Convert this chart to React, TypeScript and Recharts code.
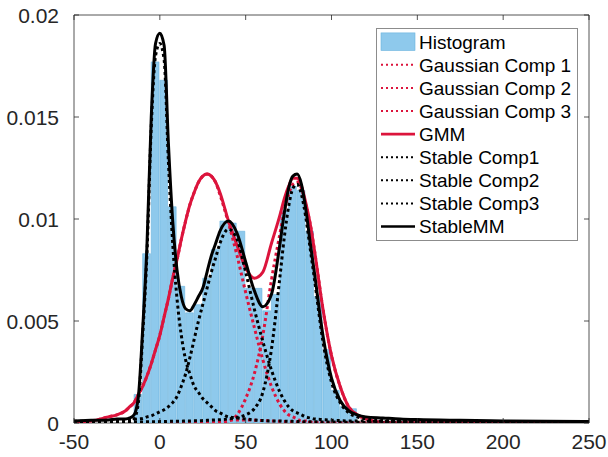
import { ComposedChart, Bar, Line, XAxis, YAxis, ReferenceArea, Legend } from "recharts";

// histogram: 5-unit bins, density
const binCenters = [
  -12.5, -7.5, -2.5, 2.5, 7.5, 12.5, 17.5, 22.5, 27.5, 32.5, 37.5, 42.5, 47.5,
  52.5, 57.5, 62.5, 67.5, 72.5, 77.5, 82.5, 87.5, 92.5, 97.5, 102.5, 107.5, 112.5,
];
const histDensity = [
  0.0014, 0.0083, 0.0177, 0.0168, 0.0106, 0.0067, 0.0054, 0.0058, 0.0071, 0.0085, 0.0099, 0.0098, 0.0094,
  0.0066, 0.0066, 0.0055, 0.0063, 0.0104, 0.0116, 0.0114, 0.0094, 0.0062, 0.0036, 0.0016, 0.0008, 0.0007,
];

// x positions where the fitted curves were read
const curveX = [
  -50, -40, -30, -25, -20, -17.5, -15, -12.5, -10, -7.5, -5, -2.5, 0, 2.5, 5, 7.5, 10, 12.5, 15, 17.5,
  20, 22.5, 25, 27.5, 30, 32.5, 35, 40, 45, 50, 55, 60, 65, 70, 72.5, 75, 77.5, 80, 82.5, 85, 87.5, 90, 95,
  100, 105, 110, 115, 120, 130, 140, 150, 175, 200, 250,
];

const gauss1 = [
  0.00003, 0.0001, 0.0003, 0.0004, 0.0006, 0.0008, 0.001, 0.0014, 0.0018, 0.0023, 0.0029, 0.0036, 0.0043, 0.0052, 0.0061, 0.0071, 0.008, 0.009, 0.0099, 0.0107,
  0.0113, 0.0118, 0.0121, 0.0122, 0.0121, 0.0118, 0.0112, 0.0098, 0.0082, 0.0064, 0.0047, 0.0031, 0.0018, 0.0009, 0.0006, 0.0004, 0.0003, 0.0002, 0.0001, 0.0001, 0.00005, 0.00003, 0,
  0, 0, 0, 0, 0, 0, 0, 0, 0, 0, 0,
];
const gauss2 = [
  0, 0, 0, 0, 0, 0, 0, 0, 0, 0, 0, 0, 0, 0, 0, 0, 0.00002, 0.00003, 0.00004, 0.00005,
  0.00006, 0.00007, 0.00008, 0.00009, 0.0001, 0.00011, 0.00012, 0.00014, 0.00015, 0.00015, 0.00014, 0.00012, 0.0001, 0.00008, 0.00007, 0.00006, 0.00005, 0.00004, 0.00003, 0.00003, 0.00002, 0.00002, 0.00001,
  0, 0, 0, 0, 0, 0, 0, 0, 0, 0, 0,
];
const gauss3 = [
  0, 0, 0, 0, 0, 0, 0, 0, 0, 0, 0, 0, 0, 0, 0, 0, 0, 0, 0, 0,
  0, 0, 0, 0, 0, 0.00001, 0.00003, 0.0001, 0.0004, 0.0012, 0.0024, 0.0043, 0.007, 0.0093, 0.0104, 0.0112, 0.0117, 0.0118, 0.0115, 0.0107, 0.0098, 0.0085, 0.0056,
  0.0033, 0.0018, 0.0008, 0.0004, 0.0002, 0.00003, 0, 0, 0, 0, 0,
];
const gmm = [
  0.00003, 0.0001, 0.0003, 0.0004, 0.0006, 0.0008, 0.001, 0.0014, 0.0018, 0.0023, 0.0029, 0.0036, 0.0043, 0.0052, 0.0061, 0.0071, 0.008, 0.009, 0.0099, 0.0107,
  0.0113, 0.0118, 0.0121, 0.0122, 0.0121, 0.0118, 0.0113, 0.0099, 0.0087, 0.0076, 0.0071, 0.0074, 0.0088, 0.0102, 0.011, 0.0116, 0.012, 0.012, 0.0116, 0.0108, 0.0098, 0.0085, 0.0056,
  0.0033, 0.0018, 0.0008, 0.0004, 0.0002, 0.00003, 0, 0, 0, 0, 0,
];

const stable1 = [
  0.00002, 0.00002, 0.00003, 0.00003, 0.00004, 0.00005, 0.0002, 0.001, 0.0043, 0.0083, 0.0145, 0.018, 0.0186, 0.0178, 0.0128, 0.0088, 0.0061, 0.0043, 0.0031, 0.0024,
  0.0018, 0.0015, 0.0012, 0.001, 0.0008, 0.0006, 0.0005, 0.0003, 0.00025, 0.0002, 0.00015, 0.00012, 0.0001, 0.0001, 0.00009, 0.00008, 0.00008, 0.00007, 0.00007, 0.00006, 0.00006, 0.00006, 0.00005,
  0.00005, 0.00004, 0.00004, 0.00004, 0.00003, 0.00003, 0.00003, 0.00002, 0.00002, 0.00001, 0.00001,
];
const stable2 = [
  0.00008, 0.0001, 0.00012, 0.00013, 0.00015, 0.00016, 0.00018, 0.0002, 0.00022, 0.0003, 0.00035, 0.00045, 0.00055, 0.00065, 0.0008, 0.001, 0.0013, 0.0018, 0.0024, 0.0032,
  0.0041, 0.005, 0.0058, 0.0066, 0.0074, 0.0081, 0.0088, 0.0095, 0.009, 0.0074, 0.0056, 0.004, 0.0026, 0.0015, 0.0011, 0.0008, 0.0006, 0.0005, 0.0004, 0.0003, 0.00025, 0.0002, 0.00017,
  0.00014, 0.00012, 0.0001, 0.0001, 0.00009, 0.00008, 0.00007, 0.00006, 0.00005, 0.00004, 0.00003,
];
const stable3 = [
  0.00002, 0.00003, 0.00003, 0.00004, 0.00004, 0.00004, 0.00005, 0.00005, 0.00005, 0.00006, 0.00006, 0.00006, 0.00007, 0.00007, 0.00008, 0.00008, 0.00009, 0.00009, 0.0001, 0.0001,
  0.00011, 0.00011, 0.00012, 0.00013, 0.00014, 0.00015, 0.00016, 0.0002, 0.00027, 0.0004, 0.0007, 0.0015, 0.0036, 0.0072, 0.0091, 0.0106, 0.0115, 0.0117, 0.0112, 0.0101, 0.0086, 0.0071, 0.004,
  0.002, 0.001, 0.0005, 0.0003, 0.0002, 0.00013, 0.0001, 0.00008, 0.00006, 0.00005, 0.00003,
];
const stableMM = [
  0.0001, 0.00013, 0.00015, 0.0002, 0.0002, 0.00025, 0.0004, 0.0013, 0.0046, 0.0087, 0.015, 0.0186, 0.0191, 0.0185, 0.0137, 0.0099, 0.0075, 0.0062, 0.0056, 0.0055,
  0.0058, 0.0062, 0.0066, 0.0074, 0.0082, 0.0088, 0.0094, 0.0099, 0.0093, 0.0079, 0.0065, 0.0057, 0.0063, 0.0088, 0.0103, 0.0115, 0.0121, 0.0122, 0.0117, 0.0105, 0.0089, 0.0074, 0.0043,
  0.0022, 0.0011, 0.0006, 0.0004, 0.0003, 0.00025, 0.0002, 0.00017, 0.00013, 0.0001, 0.00007,
];

const xTicks = [-50, 0, 50, 100, 150, 200, 250];
const yTicks = [0, 0.005, 0.01, 0.015, 0.02];

const RED = "#dc143c";
const BLACK = "#000000";
const INK = "#262626";
const BAR_FILL = "#8ec9ec";
const BAR_EDGE = "#69b3de";
const FONT = "'Liberation Sans', Arial, Helvetica, sans-serif";

const W = 608;
const H = 457;
const MARGIN = { top: 15, right: 19, left: 0, bottom: 0 };
const Y_AXIS_W = 74;
const X_AXIS_H = 34;
const PLOT_W = W - MARGIN.left - MARGIN.right - Y_AXIS_W;
const PLOT_H = H - MARGIN.top - MARGIN.bottom - X_AXIS_H;
const X_MIN = -50;
const X_MAX = 250;
const BIN_WIDTH = 5;
const BAR_PX = (PLOT_W * BIN_WIDTH) / (X_MAX - X_MIN);

type Series = { key: string; name: string; color: string; dotted: boolean; values: number[] };

const SERIES: Series[] = [
  { key: "g1", name: "Gaussian Comp 1", color: RED, dotted: true, values: gauss1 },
  { key: "g2", name: "Gaussian Comp 2", color: RED, dotted: true, values: gauss2 },
  { key: "g3", name: "Gaussian Comp 3", color: RED, dotted: true, values: gauss3 },
  { key: "gmm", name: "GMM", color: RED, dotted: false, values: gmm },
  { key: "s1", name: "Stable Comp1", color: BLACK, dotted: true, values: stable1 },
  { key: "s2", name: "Stable Comp2", color: BLACK, dotted: true, values: stable2 },
  { key: "s3", name: "Stable Comp3", color: BLACK, dotted: true, values: stable3 },
  { key: "smm", name: "StableMM", color: BLACK, dotted: false, values: stableMM },
];

const bins = binCenters.map((x, i) => ({ x, density: histDensity[i] }));

function XTick({ x, y, payload }: any) {
  return (
    <g>
      <line x1={x} x2={x} y1={y} y2={y - 5} stroke={INK} strokeWidth={0.8} />
      <line x1={x} x2={x} y1={y - PLOT_H} y2={y - PLOT_H + 5} stroke={INK} strokeWidth={0.8} />
      <text x={x} y={y + 26} textAnchor="middle" fontSize={21} fontFamily={FONT} fill={INK}>
        {payload.value}
      </text>
    </g>
  );
}

function YTick({ x, y, payload }: any) {
  return (
    <g>
      <line x1={x} x2={x + 5} y1={y} y2={y} stroke={INK} strokeWidth={0.8} />
      <line x1={x + PLOT_W} x2={x + PLOT_W - 5} y1={y} y2={y} stroke={INK} strokeWidth={0.8} />
      <text x={x - 15} y={y} dy="0.36em" textAnchor="end" fontSize={21} fontFamily={FONT} fill={INK}>
        {payload.value}
      </text>
    </g>
  );
}

const LEG_W = 202;
const LEG_H = 213;
const ROW_H = 23.1;

function MixtureLegend() {
  return (
    <svg width={LEG_W} height={LEG_H} style={{ display: "block" }}>
      <rect x={0.5} y={0.5} width={LEG_W - 1} height={LEG_H - 1} fill="#fff" stroke="#8c8c8c" />
      <g fontFamily={FONT} fontSize={19} fill="#000">
        <rect x={5} y={13.7 - 8.8} width={34} height={17.6} fill={BAR_FILL} stroke={BAR_EDGE} strokeWidth={0.6} />
        <text x={43} y={13.7} dy="0.36em">Histogram</text>
        {SERIES.map((s, i) => {
          const cy = 13.7 + (i + 1) * ROW_H;
          return (
            <g key={s.key}>
              <line
                x1={5}
                x2={39}
                y1={cy}
                y2={cy}
                stroke={s.color}
                strokeWidth={s.dotted ? 2 : 2.7}
                strokeDasharray={s.dotted ? "2 3" : undefined}
              />
              <text x={43} y={cy} dy="0.36em">{s.name}</text>
            </g>
          );
        })}
      </g>
    </svg>
  );
}

export default function App() {
  return (
    <div style={{ position: "absolute", left: 0, top: 0, width: W, height: H, background: "#fff" }}>
      <ComposedChart width={W} height={H} data={bins} margin={MARGIN} barGap={0} barCategoryGap={0}>
        <XAxis
          dataKey="x"
          type="number"
          domain={[X_MIN, X_MAX]}
          ticks={xTicks}
          allowDataOverflow
          height={X_AXIS_H}
          axisLine={false}
          tickLine={false}
          tickSize={0}
          tickMargin={0}
          tick={<XTick />}
          interval={0}
        />
        {/* separate hidden axis so the bar width comes from the bin spacing only */}
        <XAxis xAxisId="hist" dataKey="x" type="number" domain={[X_MIN, X_MAX]} allowDataOverflow hide />
        <YAxis
          type="number"
          domain={[0, 0.02]}
          ticks={yTicks}
          allowDataOverflow
          width={Y_AXIS_W}
          axisLine={false}
          tickLine={false}
          tickSize={0}
          tickMargin={0}
          tick={<YTick />}
          interval={0}
        />
        <Bar
          xAxisId="hist"
          dataKey="density"
          name="Histogram"
          fill={BAR_FILL}
          stroke={BAR_EDGE}
          strokeWidth={0.6}
          barSize={BAR_PX}
          isAnimationActive={false}
        />
        {SERIES.map((s) => (
          <Line
            key={s.key}
            data={curveX.map((x, i) => ({ x, [s.key]: s.values[i] }))}
            dataKey={s.key}
            name={s.name}
            type="monotone"
            stroke={s.color}
            strokeWidth={3}
            strokeDasharray={s.dotted ? "3 3" : undefined}
            dot={false}
            activeDot={false}
            isAnimationActive={false}
          />
        ))}
        <ReferenceArea x1={X_MIN} x2={X_MAX} y1={0} y2={0.02} fill="none" stroke="#555" strokeWidth={1} ifOverflow="visible" />
        <Legend
          layout="horizontal"
          verticalAlign="middle"
          align="center"
          content={<MixtureLegend />}
          wrapperStyle={{ position: "absolute", left: 376, top: 28, width: LEG_W, height: LEG_H }}
        />
      </ComposedChart>
    </div>
  );
}
